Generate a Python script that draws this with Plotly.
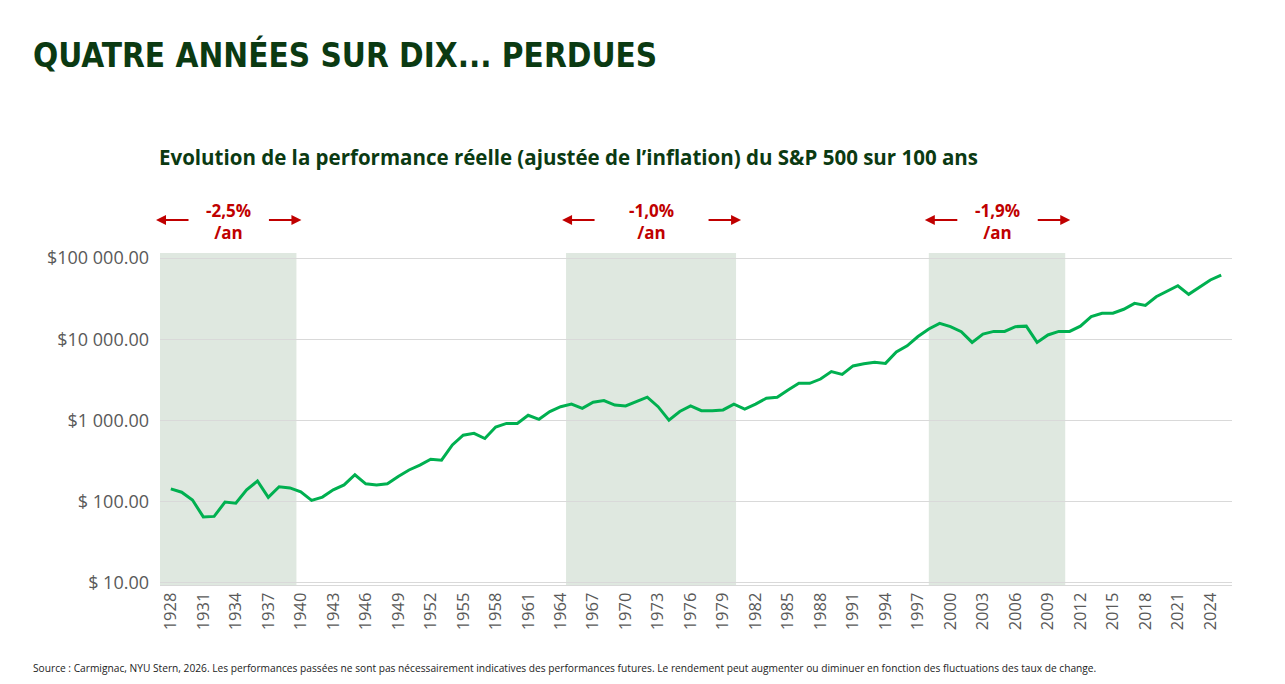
import plotly.graph_objects as go

years = list(range(1928, 2026))
values = [144,131,105,65,66,99,96,140,180,113,153,148,132,104,114,140,161,215,166,161,166,205,246,282,333,325,500,660,695,600,830,920,920,1160,1035,1290,1480,1590,1410,1680,1760,1550,1510,1700,1940,1480,1010,1290,1510,1320,1320,1350,1590,1380,1590,1880,1930,2370,2870,2870,3240,4000,3700,4700,5000,5200,5050,6970,8300,10800,13400,15700,14300,12400,9150,11600,12500,12500,14300,14500,9150,11300,12500,12500,14500,18970,20900,20900,23400,27700,26100,33400,39300,45600,35700,43500,53700,61800]
tick_years = list(range(1928, 2026, 3))
y_tickvals = [10, 100, 1000, 10000, 100000]
y_ticktext = ["$ 10.00", "$ 100.00", "$1 000.00", "$10 000.00", "$100 000.00"]
periods = [(1927.0, 1939.6, "-2,5%<br>/an"), (1964.5, 1980.2, "-1,0%<br>/an"), (1998.0, 2010.6, "-1,9%<br>/an")]

GREEN_DARK = "#0b3a12"
RED = "#c00000"
XMIN, XMAX = 1927, 2026

def px_x(sx):
    return (sx - 160) / 1072.0

def px_y(sy):
    return (585 - sy) / 332.0

def yr_x(yr):
    return (yr - XMIN) / (XMAX - XMIN)

fig = go.Figure()
fig.add_trace(go.Scatter(x=years, y=values, mode="lines",
                         line=dict(color="#00b050", width=3), hoverinfo="skip"))

shapes = []
annotations = []
for x0, x1, txt in periods:
    shapes.append(dict(type="rect", xref="x", yref="paper", x0=x0, x1=x1, y0=0, y1=1,
                       fillcolor="#dfe8e0", line=dict(width=0), layer="below"))
    xm = (x0 + x1) / 2
    annotations.append(dict(x=xm, y=px_y(222), xref="x", yref="paper", text="<b>" + txt + "</b>",
                            showarrow=False, yanchor="middle",
                            font=dict(family="Open Sans", size=17, color=RED), align="center"))
    annotations.append(dict(x=yr_x(x0) - 4 / 1072, y=px_y(220), ax=34, ay=0, xref="paper", yref="paper",
                            axref="pixel", ayref="pixel", text="", showarrow=True,
                            arrowhead=2, arrowsize=1, arrowwidth=2, arrowcolor=RED))
    annotations.append(dict(x=yr_x(x1) + 5 / 1072, y=px_y(220), ax=-34, ay=0, xref="paper", yref="paper",
                            axref="pixel", ayref="pixel", text="", showarrow=True,
                            arrowhead=2, arrowsize=1, arrowwidth=2, arrowcolor=RED))

fig.update_layout(
    width=1285, height=684,
    margin=dict(l=152, r=61, t=245, b=107),
    paper_bgcolor="white", plot_bgcolor="white",
    showlegend=False,
    shapes=shapes,
    annotations=annotations + [
        dict(x=px_x(31), y=px_y(55), xref="paper", yref="paper", xanchor="left", yanchor="middle",
             text="<b>QUATRE ANNÉES SUR DIX... PERDUES</b>", showarrow=False,
             font=dict(family="DejaVu Sans Condensed", size=33, color=GREEN_DARK)),
        dict(x=px_x(157), y=px_y(157), xref="paper", yref="paper", xanchor="left", yanchor="middle",
             text="<b>Evolution de la performance réelle (ajustée de l’inflation) du S&P 500 sur 100 ans</b>",
             showarrow=False, font=dict(family="Open Sans", size=20.5, color=GREEN_DARK)),
        dict(x=px_x(31), y=px_y(668), xref="paper", yref="paper", xanchor="left", yanchor="middle",
             text="Source : Carmignac, NYU Stern, 2026. Les performances passées ne sont pas nécessairement indicatives des performances futures. Le rendement peut augmenter ou diminuer en fonction des fluctuations des taux de change.",
             showarrow=False, font=dict(family="Open Sans", size=10.2, color="#222222")),
    ],
)
fig.update_xaxes(range=[XMIN, XMAX], tickmode="array", tickvals=tick_years,
                 ticktext=[str(t) for t in tick_years], tickangle=-90,
                 tickfont=dict(family="Open Sans", size=16.5, color="#595959"),
                 showgrid=False, showline=True, linecolor="#d9d9d9", zeroline=False)
fig.update_yaxes(type="log", range=[0.975, 5.062], tickvals=y_tickvals, ticktext=y_ticktext,
                 tickfont=dict(family="Open Sans", size=18, color="#595959"),
                 showgrid=True, gridcolor="#d9d9d9", gridwidth=1, zeroline=False, ticks="",
                 ticklabelstandoff=10)

fig.write_html("out.html")
